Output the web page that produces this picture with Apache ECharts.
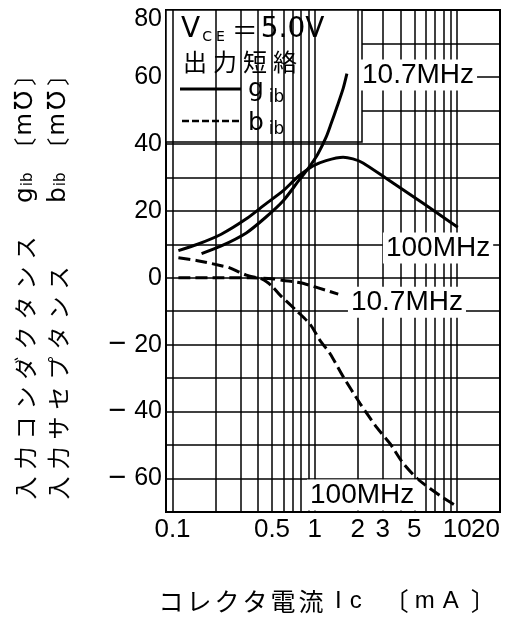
<!DOCTYPE html>
<html><head><meta charset="utf-8">
<script src="https://cdn.jsdelivr.net/npm/echarts@6/dist/echarts.min.js"></script>
<style>html,body{margin:0;padding:0;background:#fff;}#c{width:505px;height:624px;}</style>
</head><body><div id="c"></div>
<script>
// ---- data ----
const xMin = 0.09, xMax = 20;
const yMin = -70, yMax = 80, yStep = 10;
const xGridValues = [0.1,0.2,0.3,0.4,0.5,0.6,0.7,0.8,0.9,1,2,3,4,5,6,7,8,9,10];
const xTickValues = [0.1,0.5,1,2,3,5,10,20];
const xTickLabels = ['0.1','0.5','1','2','3','5','10','20'];
const yTickValues = [80,60,40,20,0,-20,-40,-60];
const yTickLabels = ['80','60','40','20','0','\u221220','\u221240','\u221260'];

// g_ib 10.7 MHz (solid)
const gib107 = [[0.16,7.2],[0.22,9.5],[0.33,13.4],[0.45,18],[0.6,23],[0.77,29],[0.91,33],[1.05,37],[1.2,42],[1.3,46],[1.43,51],[1.58,56.5],[1.68,61]];
// g_ib 100 MHz (solid)
const gib100 = [[0.11,8.1],[0.15,10],[0.22,13],[0.33,17.6],[0.45,22],[0.6,26],[0.77,30.4],[0.97,33.4],[1.2,35],[1.58,36],[1.85,35.5],[2.18,34.3],[3.22,29.5],[4.67,24.9],[7.2,19.4],[10.1,15.1]];
// b_ib 10.7 MHz (dashed)
const bib107 = [[0.11,0],[0.2,0],[0.35,0],[0.5,-0.3],[0.6,-0.8],[0.79,-1.5],[1.03,-2.9],[1.46,-4.9]];
// b_ib 100 MHz (dashed)
const bib100 = [[0.11,6.0],[0.15,5.1],[0.22,3.6],[0.25,3],[0.33,0.8],[0.43,-0.5],[0.5,-2.5],[0.57,-5.2],[0.75,-10],[0.93,-14],[1.09,-18.8],[1.28,-22.7],[1.58,-29.5],[2.08,-37.6],[2.73,-44.8],[3.38,-49.6],[4.1,-55],[5.23,-60],[6.45,-63],[7.95,-65.7],[9.7,-68]];

const curveNames = ['10.7MHz','100MHz','10.7MHz','100MHz'];

// ---- fonts / helpers ----
const LAT = "'Liberation Sans', 'DejaVu Sans', sans-serif";
const DJV = "'DejaVu Sans', sans-serif";
const CJK = "'Noto Sans CJK JP', 'DejaVu Sans', sans-serif";
const spaced = (s, cls) => Array.from(s).map(c => '{' + cls + '|' + c + '}').join('');

const chart = echarts.init(document.getElementById('c'), null, {renderer: 'canvas'});

const curveSeries = (name, data, dashed) => ({
  name, type: 'line', data, z: 5, smooth: 0.25, symbol: 'none', silent: true,
  lineStyle: {color: '#000', width: 3, type: dashed ? [12, 5] : 'solid'}
});

const unit = '{b1|〔}{lm|m}{lo|℧}{b2|〕}';
const yName = spaced('入力コンダクタンス', 'k') + '{sp|\u3000}{gm|g}{gs|ib}' + unit + '\n' +
              spaced('入力サセプタンス', 'k') + '{sp|\u3000}{sp|\u3000}{gm|b}{gs|ib}' + unit;

const xName = spaced('コレクタ電流', 'k') + '{I|I}{c|c}{b1|〔}{m|m}{A|A}{b2|〕}';

const yLabelFormatter = v => {
  const r = Math.round(v);
  const i = yTickValues.indexOf(r);
  if (i < 0) return '';
  const t = yTickLabels[i];
  if (r === yMax) return '{top|' + t + '}';
  if (t.charAt(0) === '\u2212') return '{d|\u2212}{n|' + t.slice(1) + '}';
  return t;
};

const yRich = {};
['k', 'sp'].forEach(s => yRich[s] = {fontSize: 23, fontFamily: CJK, padding: [0, 3.5, 0, 3.5], lineHeight: 33, fill: '#000'});
Object.assign(yRich, {
  gm: {fontSize: 25, fontFamily: DJV, lineHeight: 33, fill: '#000'},
  gs: {fontSize: 15, fontFamily: DJV, lineHeight: 33, padding: [6, 2, 0, 1], fill: '#000'},
  b1: {fontSize: 23, fontFamily: CJK, lineHeight: 33, padding: [0, 0, 0, 10], fill: '#000'},
  lm: {fontSize: 23, fontFamily: DJV, lineHeight: 33, padding: [0, 0, 0, 2], fill: '#000'},
  lo: {fontSize: 25, fontFamily: DJV, lineHeight: 33, padding: [0, 2, 0, 3], fill: '#000'},
  b2: {fontSize: 23, fontFamily: CJK, lineHeight: 33, padding: [0, 0, 0, 3], fill: '#000'}
});

const option = {
  animation: false,
  backgroundColor: '#fff',
  grid: {left: 166, right: 5, top: 10, bottom: 112, show: true, borderColor: '#000', borderWidth: 2,
         containLabel: false, outerBoundsMode: 'none'},
  xAxis: {
    type: 'log', logBase: 10, min: xMin, max: xMax,
    axisLine: {show: false}, axisTick: {show: false}, axisLabel: {show: false},
    splitLine: {show: false}, minorTick: {show: false}, minorSplitLine: {show: false}
  },
  yAxis: {
    type: 'value', min: yMin, max: yMax, interval: yStep,
    axisLine: {show: false}, axisTick: {show: false},
    splitLine: {show: true, lineStyle: {color: '#000', width: 1.5}},
    axisLabel: {
      show: true, margin: 4, color: '#000', fontSize: 25, fontFamily: LAT,
      showMinLabel: true, showMaxLabel: true, hideOverlap: false,
      formatter: yLabelFormatter,
      rich: {
        top: {fontSize: 25, fontFamily: LAT, color: '#000', padding: [18, 0, 0, 0]},
        d: {fontSize: 31, fontFamily: LAT, color: '#000', padding: [0, 8, 0, 0]},
        n: {fontSize: 25, fontFamily: LAT, color: '#000'}
      }
    }
  },
  series: [
    { // vertical log grid lines
      name: 'grid', type: 'line', z: 1, data: [[xMin, yMin]], symbol: 'none', silent: true,
      lineStyle: {width: 0},
      markLine: {
        silent: true, symbol: ['none', 'none'], label: {show: false}, animation: false,
        lineStyle: {color: '#000', width: 1.5, type: 'solid', opacity: 1},
        emphasis: {disabled: true},
        data: xGridValues.map(v => ({xAxis: v}))
      }
    },
    curveSeries('gib 10.7MHz', gib107, false),
    curveSeries('gib 100MHz', gib100, false),
    curveSeries('bib 10.7MHz', bib107, true),
    curveSeries('bib 100MHz', bib100, true),
    { // curve annotations
      name: 'labels', type: 'scatter', z: 6, clip: false, silent: true, symbolSize: 0,
      itemStyle: {color: 'rgba(0,0,0,0)', opacity: 1},
      data: [
        {value: [5.31, 60.6], name: curveNames[0]},
        {value: [7.34, 8.9], name: curveNames[1]},
        {value: [4.44, -7.3], name: curveNames[2]},
        {value: [2.15, -64.9], name: curveNames[3]}
      ],
      label: {show: true, position: [0, 0], align: 'center', verticalAlign: 'middle',
              formatter: '{b}', color: '#000', fontSize: 28, fontFamily: LAT,
              backgroundColor: '#fff', padding: [2, 3, 1, 3]}
    },
    { // x tick labels
      name: 'xticks', type: 'scatter', z: 6, clip: false, silent: true, symbolSize: 0,
      itemStyle: {color: 'rgba(0,0,0,0)', opacity: 1},
      data: xTickValues.map((v, i) => i === xTickValues.length - 1
        ? {value: [v, yMin], label: {align: 'right'}}
        : {value: [v, yMin]}),
      label: {show: true, position: 'bottom', distance: 5, color: '#000', fontSize: 26, fontFamily: LAT,
              formatter: p => xTickLabels[p.dataIndex]}
    }
  ],
  graphic: [
    {type: 'rect', z: 3, shape: {x: 166, y: 10, width: 196, height: 132},
     style: {fill: '#fff', stroke: '#000', lineWidth: 1.5}},
    {type: 'text', z: 4, x: 181, y: 30, style: {
      text: '{v|V}{s|C}{s|E}{e|＝}{v|5.0V}', verticalAlign: 'middle', align: 'left', fill: '#000',
      rich: {v: {fontSize: 28, fontFamily: DJV, fill: '#000'},
             s: {fontSize: 14, fontFamily: DJV, verticalAlign: 'bottom', padding: [0, 2, 0, 2], fill: '#000'},
             e: {fontSize: 26, fontFamily: CJK, padding: [0, 3, 0, 5], fill: '#000'}}}},
    {type: 'text', z: 4, x: 180, y: 62, style: {
      text: spaced('出力短絡', 'k'), verticalAlign: 'middle', align: 'left', fill: '#000',
      rich: {k: {fontSize: 24, fontFamily: CJK, padding: [0, 3, 0, 3], fill: '#000'}}}},
    {type: 'line', z: 4, shape: {x1: 180, y1: 89, x2: 241, y2: 89}, style: {stroke: '#000', lineWidth: 3}},
    {type: 'line', z: 4, shape: {x1: 182, y1: 121, x2: 239, y2: 121}, style: {stroke: '#000', lineWidth: 2.5, lineDash: [7, 3]}},
    {type: 'text', z: 4, x: 248, y: 89, style: {
      text: '{m|g}{s|ib}', verticalAlign: 'middle', align: 'left', fill: '#000',
      rich: {m: {fontSize: 25, fontFamily: DJV, lineHeight: 34, fill: '#000'},
             s: {fontSize: 17, fontFamily: DJV, verticalAlign: 'bottom', padding: [0, 0, 0, 5], fill: '#000'}}}},
    {type: 'text', z: 4, x: 248, y: 123, style: {
      text: '{m|b}{s|ib}', verticalAlign: 'middle', align: 'left', fill: '#000',
      rich: {m: {fontSize: 25, fontFamily: DJV, lineHeight: 30, fill: '#000'},
             s: {fontSize: 17, fontFamily: DJV, verticalAlign: 'bottom', padding: [0, 0, 0, 5], fill: '#000'}}}},
    // y axis name (two rotated lines)
    {type: 'text', z: 4, x: 8.5, y: 503, rotation: Math.PI / 2, style: {
      text: yName, verticalAlign: 'top', align: 'left', fill: '#000', rich: yRich}},
    // x axis name
    {type: 'text', z: 4, x: 157, y: 601, style: {
      text: xName, verticalAlign: 'middle', align: 'left', fill: '#000',
      rich: {k: {fontSize: 25, fontFamily: CJK, padding: [0, 1.5, 0, 1.5], fill: '#000'},
             I: {fontSize: 24, fontFamily: LAT, padding: [0, 8, 0, 10], fill: '#000'},
             c: {fontSize: 24, fontFamily: LAT, fill: '#000'},
             b1: {fontSize: 25, fontFamily: CJK, padding: [0, 0, 0, 22], fill: '#000'},
             m: {fontSize: 24, fontFamily: LAT, padding: [0, 0, 0, 6], fill: '#000'},
             A: {fontSize: 24, fontFamily: LAT, padding: [0, 0, 0, 8], fill: '#000'},
             b2: {fontSize: 25, fontFamily: CJK, padding: [0, 0, 0, 12], fill: '#000'}}}}
  ]
};
chart.setOption(option);
</script>
</body></html>
